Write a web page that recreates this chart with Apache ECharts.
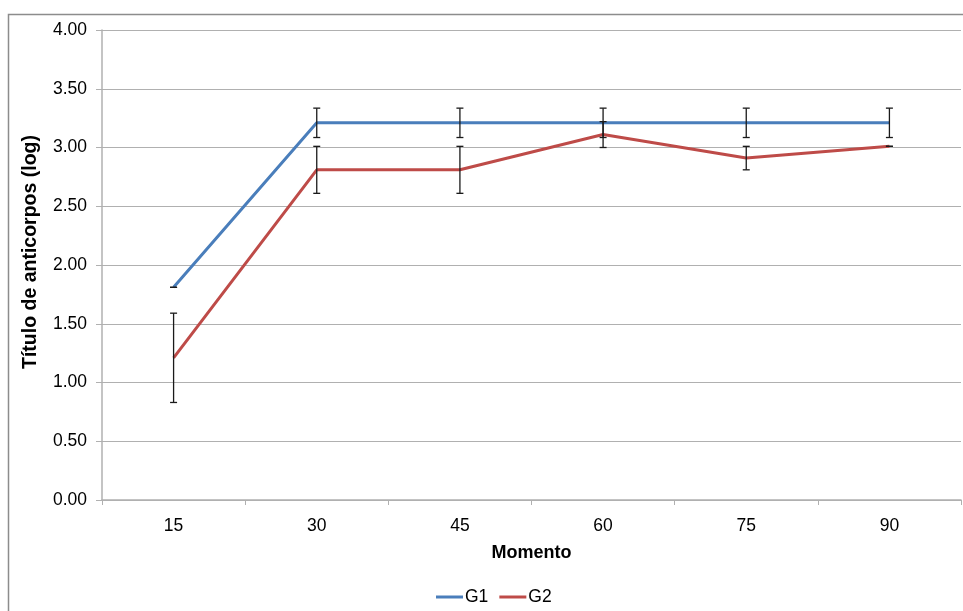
<!DOCTYPE html>
<html>
<head>
<meta charset="utf-8">
<script src="https://cdn.jsdelivr.net/npm/echarts@6/dist/echarts.min.js"></script>
<style>
html,body{margin:0;padding:0;background:#fff;}
#chart{width:963px;height:611px;}
</style>
</head>
<body>
<div id="chart"></div>
<script>
var categories = ['15', '30', '45', '60', '75', '90'];
var g1Values = [1.81, 3.21, 3.21, 3.21, 3.21, 3.21];
var g1Errors = [0.0, 0.125, 0.125, 0.125, 0.125, 0.125];
var g2Values = [1.21, 2.81, 2.81, 3.11, 2.91, 3.01];
var g2Errors = [0.38, 0.2, 0.2, 0.11, 0.1, 0.0];
var yTicks = [0, 0.5, 1, 1.5, 2, 2.5, 3, 3.5, 4];

var FONT = 'Liberation Sans, Arial, sans-serif';

function errData(vals, errs) {
  return vals.map(function (v, i) { return [i, v - errs[i], v + errs[i]]; });
}

function errRender(params, api) {
  var x = api.value(0);
  var lo = api.coord([x, api.value(1)]);
  var hi = api.coord([x, api.value(2)]);
  var cw = 3.5;
  var st = { stroke: '#1a1a1a', lineWidth: 1.3 };
  return {
    type: 'group',
    children: [
      { type: 'line', shape: { x1: hi[0], y1: hi[1], x2: lo[0], y2: lo[1] }, style: st },
      { type: 'line', shape: { x1: hi[0] - cw, y1: hi[1], x2: hi[0] + cw, y2: hi[1] }, style: st },
      { type: 'line', shape: { x1: lo[0] - cw, y1: lo[1], x2: lo[0] + cw, y2: lo[1] }, style: st }
    ]
  };
}

var chart = echarts.init(document.getElementById('chart'), null, { renderer: 'canvas' });
chart.setOption({
  animation: false,
  backgroundColor: '#fff',
  textStyle: { fontFamily: FONT },
  graphic: [{
    type: 'rect', left: 6, top: 12, z: -10,
    shape: { width: 1000, height: 700 },
    style: { fill: 'none', stroke: '#8c8c8c', lineWidth: 1.5 }
  }],
  grid: { left: 102, right: 2, top: 30, bottom: 111, containLabel: false },
  legend: {
    bottom: 0, left: 431,
    itemWidth: 27, itemHeight: 3, itemGap: 11,
    icon: 'rect',
    textStyle: { fontSize: 17.5, color: '#000', fontFamily: FONT, padding: [0, 0, 0, -3] },
    data: ['G1', 'G2']
  },
  xAxis: {
    type: 'category',
    data: categories,
    boundaryGap: true,
    name: 'Momento',
    nameLocation: 'middle',
    nameGap: 44,
    nameTextStyle: { fontSize: 18, fontWeight: 'bold', color: '#000', fontFamily: FONT },
    axisLine: { lineStyle: { color: '#b0b0b0', width: 1.5 } },
    axisTick: { show: true, interval: 0, length: 5, lineStyle: { color: '#b0b0b0' } },
    axisLabel: { fontSize: 17.5, color: '#000', margin: 17, fontFamily: FONT }
  },
  yAxis: {
    type: 'value',
    min: yTicks[0],
    max: yTicks[yTicks.length - 1],
    interval: 0.5,
    name: 'Título de anticorpos (log)',
    nameLocation: 'middle',
    nameGap: 61,
    nameTextStyle: { fontSize: 19.5, fontWeight: 'bold', color: '#000', fontFamily: FONT, padding: [0, 0, 0, 26] },
    axisLine: { show: true, lineStyle: { color: '#b0b0b0', width: 1.5 } },
    axisTick: { show: true, length: 6, lineStyle: { color: '#b0b0b0' } },
    axisLabel: { fontSize: 17.5, color: '#000', margin: 15, fontFamily: FONT,
      formatter: function (v) { return v.toFixed(2); } },
    splitLine: { lineStyle: { color: '#b0b0b0', width: 1.2 } }
  },
  series: [
    {
      name: 'G1', type: 'line', data: g1Values, symbol: 'none',
      lineStyle: { color: '#4A7EBB', width: 3 }, itemStyle: { color: '#4A7EBB' }, z: 3
    },
    {
      name: 'G2', type: 'line', data: g2Values, symbol: 'none',
      lineStyle: { color: '#BE4B48', width: 3 }, itemStyle: { color: '#BE4B48' }, z: 3
    },
    {
      name: 'G1err', type: 'custom', renderItem: errRender, data: errData(g1Values, g1Errors),
      encode: { x: 0, y: [1, 2] }, z: 4, silent: true
    },
    {
      name: 'G2err', type: 'custom', renderItem: errRender, data: errData(g2Values, g2Errors),
      encode: { x: 0, y: [1, 2] }, z: 4, silent: true
    }
  ]
});
</script>
</body>
</html>
